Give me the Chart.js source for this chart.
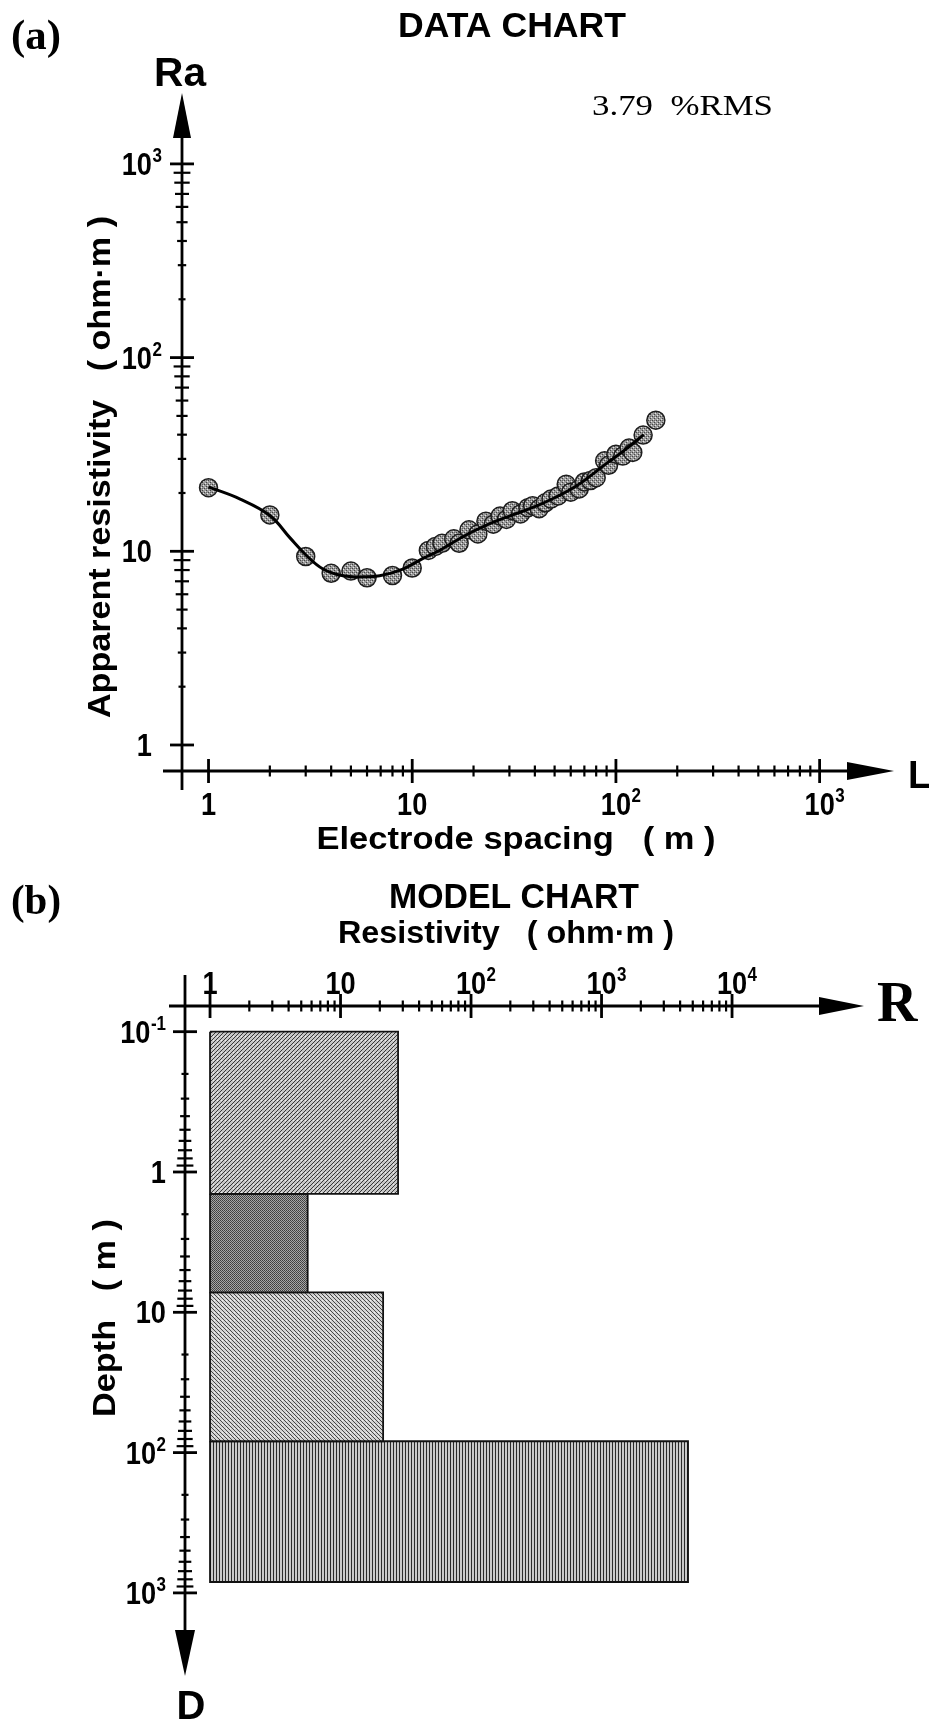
<!DOCTYPE html>
<html>
<head>
<meta charset="utf-8">
<script src="https://cdn.jsdelivr.net/npm/chart.js@4.4.1/dist/chart.umd.min.js"></script>
<style>
  html, body { margin: 0; padding: 0; background: #fff; }
  #wrap { position: relative; width: 929px; height: 1721px; }
  #wrap canvas { position: absolute; left: 0; top: 0; }
</style>
</head>
<body>
<div id="wrap">
  <canvas id="dataChart" width="929" height="1721"></canvas>
  <canvas id="modelChart" width="929" height="1721"></canvas>
</div>
<script>
// ---- (a) data chart: measured apparent resistivity vs electrode spacing
const spacing     = [1, 2, 3, 4, 5, 6, 8, 10, 12, 13, 14, 16, 17, 19, 21, 23, 25, 27, 29, 31,
                     34, 37, 39, 42, 45, 48, 52, 57, 60, 66, 70, 75, 80, 88, 92, 100, 108, 116, 121, 136, 157];
const apparentRes = [21.3, 15.4, 9.4, 7.7, 7.9, 7.3, 7.5, 8.2, 10.1, 10.6, 11.0, 11.6, 11.0, 12.9, 12.3, 14.3, 13.8, 15.2, 14.6, 16.2,
                     15.6, 16.8, 17.2, 16.6, 17.8, 18.6, 19.3, 22.2, 20.2, 21.0, 22.8, 23.2, 24.0, 29.3, 27.8, 31.7, 31.0, 34.1, 32.4, 39.8, 47.5];

// model response curve
const modelL  = [1, 1.43, 2, 2.5, 3, 3.65, 4.57, 5.73, 6.92, 9, 11.3, 13.6, 18, 23, 30, 40, 50, 65, 89, 110, 137];
const modelRa = [21.5, 18.6, 15.3, 11.8, 9.6, 8.1, 7.47, 7.38, 7.47, 8.1, 9.2, 10.1, 12.0, 13.6, 15.2, 17.0, 18.9, 22.0, 28.2, 33.2, 40.0];

const rmsText = '3.79  %RMS';

// ---- (b) model chart: layered earth
const layerTop    = [0.1, 1.43, 7.2, 83];
const layerBottom = [1.43, 7.2, 83, 836];
const layerRes    = [27.6, 5.6, 21.2, 4600];
const boxBase     = 1;

// axis ticks + labels  ('10^2' -> 10 with superscript 2)
const spacingTicks  = [1, 10, 100, 1000];
const spacingLabels = ['1', '10', '10^2', '10^3'];
const raTicks       = [1, 10, 100, 1000];
const raLabels      = ['1', '10', '10^2', '10^3'];
const resTicks      = [1, 10, 100, 1000, 10000];
const resLabels     = ['1', '10', '10^2', '10^3', '10^4'];
const depthTicks    = [0.1, 1, 10, 100, 1000];
const depthLabels   = ['10^-1', '1', '10', '10^2', '10^3'];

const SANS  = '"Liberation Sans", Arial, Helvetica, sans-serif';
const SERIF = '"Liberation Serif", "Times New Roman", Times, serif';

// ---- helpers --------------------------------------------------------
function makePattern(w, h, bg, dots) {
    const c = document.createElement('canvas');
    c.width = w; c.height = h;
    const g = c.getContext('2d');
    g.fillStyle = bg; g.fillRect(0, 0, w, h);
    dots.forEach(([x, y, col]) => { g.fillStyle = col; g.fillRect(x, y, 1, 1); });
    return g.createPattern(c, 'repeat');
}

const dotFill = makePattern(4, 4, '#9a9a9a',
    [[0,0,'#444'],[2,2,'#444'],[1,3,'#e4e4e4'],[3,1,'#e4e4e4'],[2,0,'#666']]);

const layerFills = [
    // fine "/" hatch
    makePattern(4, 4, '#c6c6c6', [[3,0,'#383838'],[2,1,'#383838'],[1,2,'#383838'],[0,3,'#383838'],[1,0,'#eee']]),
    // dark cross hatch
    makePattern(2, 2, '#a6a6a6', [[0,0,'#3c3c3c'],[1,1,'#4a4a4a']]),
    // lighter "\" hatch
    makePattern(4, 4, '#d2d2d2', [[0,0,'#474747'],[1,1,'#474747'],[2,2,'#474747'],[3,3,'#474747'],[2,0,'#f0f0f0']]),
    // vertical lines
    makePattern(3, 1, '#c8c8c8', [[0,0,'#2a2a2a']])
];

function put(ctx, str, x, y, o) {
    ctx.save();
    ctx.font = `${o.weight || 'bold'} ${o.size}px ${o.family || SANS}`;
    ctx.textBaseline = o.baseline || 'alphabetic';
    ctx.textAlign = o.align || 'left';
    ctx.translate(x, y);
    if (o.rot) ctx.rotate(o.rot);
    if (o.width) ctx.scale(o.width / ctx.measureText(str).width, 1);
    ctx.fillText(str, 0, 0);
    ctx.restore();
}

// tick label with optional superscript, condensed a little
// align: 'center' centres the base, 'right' right-aligns the base, 'rightAll' right-aligns the whole label
function powLabel(ctx, lbl, x, y, align) {
    const [base, sup] = lbl.split('^');
    ctx.save();
    ctx.translate(x, y);
    ctx.scale(0.85, 1);
    ctx.font = `bold 20px ${SANS}`;
    const sw = sup ? ctx.measureText(sup).width + 0.5 : 0;
    ctx.font = `bold 32px ${SANS}`;
    const bw = ctx.measureText(base).width;
    let left = -bw;
    if (align === 'center') left = -bw / 2;
    if (align === 'rightAll') left = -bw - sw;
    ctx.textAlign = 'left';
    ctx.textBaseline = 'alphabetic';
    ctx.fillText(base, left, 0);
    if (sup) {
        ctx.font = `bold 20px ${SANS}`;
        ctx.fillText(sup, left + bw + 0.5, -13);
    }
    ctx.restore();
}

function seg(ctx, x1, y1, x2, y2, w) {
    ctx.lineWidth = w;
    ctx.beginPath(); ctx.moveTo(x1, y1); ctx.lineTo(x2, y2); ctx.stroke();
}

function arrowHead(ctx, tx, ty, dir, len, half) {
    ctx.beginPath();
    ctx.moveTo(tx, ty);
    if (dir === 'up')    { ctx.lineTo(tx - half, ty + len); ctx.lineTo(tx + half, ty + len); }
    if (dir === 'down')  { ctx.lineTo(tx - half, ty - len); ctx.lineTo(tx + half, ty - len); }
    if (dir === 'right') { ctx.lineTo(tx - len, ty - half); ctx.lineTo(tx - len, ty + half); }
    ctx.closePath(); ctx.fill();
}

// major + 2..9 minor log ticks crossing an axis line
function logTicks(ctx, scale, majors, horizontal, pos) {
    const mark = (p, h, w) => horizontal ? seg(ctx, p, pos - h, p, pos + h, w)
                                         : seg(ctx, pos - h, p, pos + h, p, w);
    majors.forEach(v => mark(scale.getPixelForValue(v), 12, 2.8));
    for (let i = 0; i < majors.length - 1; i++) {
        for (let m = 2; m <= 9; m++) {
            mark(scale.getPixelForValue(majors[i] * m), horizontal ? 5.5 : 3.5 + (m - 2) * 0.7, 2.2);
        }
    }
}

// ---- (a) axes, ticks and texts ---------------------------------------
const dataAxes = {
    id: 'dataAxes',
    afterDraw(chart) {
        const { ctx, chartArea: a, scales: { x, y } } = chart;
        ctx.save();
        ctx.strokeStyle = '#000'; ctx.fillStyle = '#000'; ctx.lineCap = 'butt';

        // Ra axis
        seg(ctx, a.left, a.bottom + 19, a.left, a.top + 40, 2.8);
        arrowHead(ctx, a.left, a.top, 'up', 45, 9);
        logTicks(ctx, y, raTicks, false, a.left);
        raTicks.forEach((v, i) => powLabel(ctx, raLabels[i], 152, y.getPixelForValue(v) + 11, 'right'));

        // L axis
        seg(ctx, a.left - 19, a.bottom, a.right - 40, a.bottom, 3.2);
        arrowHead(ctx, a.right, a.bottom, 'right', 47, 9);
        logTicks(ctx, x, spacingTicks, true, a.bottom);
        spacingTicks.forEach((v, i) => powLabel(ctx, spacingLabels[i], x.getPixelForValue(v), 815, 'center'));

        put(ctx, '(a)', 11, 49, { size: 42, family: SERIF, width: 50 });
        put(ctx, 'DATA CHART', 512, 37, { size: 35, align: 'center', width: 228 });
        put(ctx, 'Ra', 154, 86, { size: 40, width: 52 });
        put(ctx, 'L', 908, 788, { size: 38 });
        put(ctx, rmsText, 592, 115, { size: 29, weight: 'normal', family: SERIF, width: 181 });
        put(ctx, 'Electrode spacing   ( m )', 516, 849, { size: 31, align: 'center', width: 399 });
        put(ctx, 'Apparent resistivity   ( ohm·m )', 110, 467, { size: 31, align: 'center', rot: -Math.PI / 2, width: 502 });
        ctx.restore();
    }
};

new Chart(document.getElementById('dataChart'), {
    type: 'line',
    data: {
        datasets: [
            {   // fitted curve, drawn on top of the circles
                data: modelL.map((v, i) => ({ x: v, y: modelRa[i] })),
                borderColor: '#000', borderWidth: 3,
                pointRadius: 0, tension: 0.4, fill: false
            },
            {   // field readings
                data: spacing.map((v, i) => ({ x: v, y: apparentRes[i] })),
                showLine: false,
                pointRadius: 9,
                pointBackgroundColor: dotFill,
                pointBorderColor: '#1e1e1e',
                pointBorderWidth: 1.5
            }
        ]
    },
    options: {
        responsive: false, animation: false, events: [],
        layout: { padding: { left: 182, right: 35, top: 93, bottom: 950 } },
        plugins: { legend: { display: false }, tooltip: { enabled: false } },
        scales: {
            x: { type: 'logarithmic', bounds: 'data', min: 0.741, max: 2318, display: false },
            y: { type: 'logarithmic', bounds: 'data', min: 0.734, max: 2323, display: false }
        }
    },
    plugins: [dataAxes]
});

// ---- (b) axes, ticks and texts ---------------------------------------
const modelAxes = {
    id: 'modelAxes',
    afterDraw(chart) {
        const { ctx, chartArea: a, scales: { x, y } } = chart;
        ctx.save();
        ctx.strokeStyle = '#000'; ctx.fillStyle = '#000';

        // resistivity axis (top)
        seg(ctx, a.left - 16, a.top, a.right - 40, a.top, 3.2);
        arrowHead(ctx, a.right, a.top, 'right', 45, 9);
        logTicks(ctx, x, resTicks, true, a.top);
        resTicks.forEach((v, i) => powLabel(ctx, resLabels[i], x.getPixelForValue(v), 994, 'center'));

        // depth axis (down)
        seg(ctx, a.left, a.top - 31, a.left, a.bottom - 40, 2.8);
        arrowHead(ctx, a.left, a.bottom, 'down', 46, 10);
        logTicks(ctx, y, depthTicks, false, a.left);
        depthTicks.forEach((v, i) => powLabel(ctx, depthLabels[i], 166, y.getPixelForValue(v) + 11, 'rightAll'));

        put(ctx, '(b)', 11, 914, { size: 42, family: SERIF, width: 50 });
        put(ctx, 'MODEL CHART', 514, 908, { size: 35, align: 'center', width: 250 });
        put(ctx, 'Resistivity   ( ohm·m )', 506, 943, { size: 31, align: 'center', width: 336 });
        put(ctx, 'R', 877, 1021, { size: 56, family: SERIF });
        put(ctx, 'D', 191, 1719, { size: 40, align: 'center' });
        put(ctx, 'Depth   ( m )', 115, 1318, { size: 31, align: 'center', rot: -Math.PI / 2, width: 198 });
        ctx.restore();
    }
};

new Chart(document.getElementById('modelChart'), {
    type: 'line',
    data: {
        datasets: layerRes.map((r, i) => ({
            data: [
                { x: boxBase, y: layerTop[i] }, { x: r, y: layerTop[i] },
                { x: r, y: layerBottom[i] }, { x: boxBase, y: layerBottom[i] },
                { x: boxBase, y: layerTop[i] }
            ],
            borderColor: '#111', borderWidth: 1.8,
            backgroundColor: layerFills[i],
            fill: 'shape', pointRadius: 0, tension: 0
        }))
    },
    options: {
        responsive: false, animation: false, events: [],
        layout: { padding: { left: 185, right: 65, top: 1006, bottom: 45 } },
        plugins: { legend: { display: false }, tooltip: { enabled: false } },
        scales: {
            x: { type: 'logarithmic', bounds: 'data', min: 0.643, max: 102600, display: false },
            y: { type: 'logarithmic', bounds: 'data', min: 0.0656, max: 3911, reverse: true, display: false }
        }
    },
    plugins: [modelAxes]
});
</script>
</body>
</html>
